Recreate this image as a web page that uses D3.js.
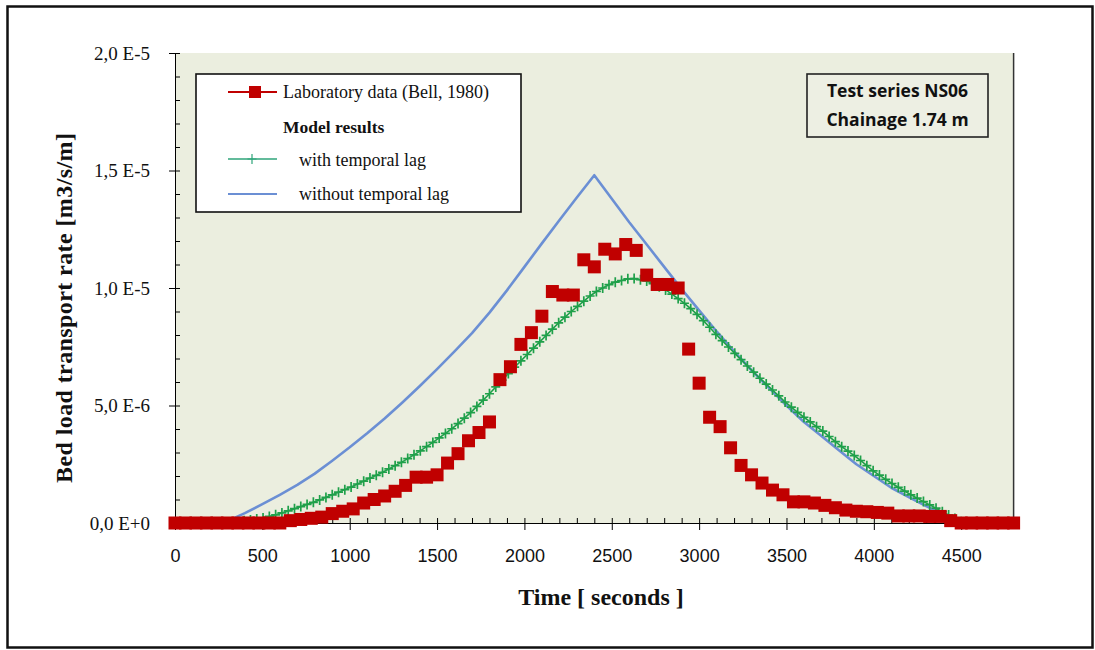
<!DOCTYPE html>
<html>
<head>
<meta charset="utf-8">
<script src="https://cdn.jsdelivr.net/npm/d3@7"></script>
<style>
  html, body { margin: 0; padding: 0; background: #ffffff; }
  svg { display: block; }
</style>
</head>
<body>
<svg id="chart" width="1095" height="650"></svg>
<script>
// ---- Data (transport rates in units of 1E-6 m3/s/m, time in seconds) ----

// Laboratory measurements (Bell, 1980)
const labTime = [
  0, 60, 120, 180, 240, 300, 360, 420, 480, 540, 600, 660, 720, 780, 840, 900, 960,
  1020, 1080, 1140, 1200, 1260, 1320, 1380, 1440, 1500, 1560, 1620, 1680, 1740, 1800,
  1860, 1920, 1980, 2040, 2100, 2160, 2220, 2280, 2340, 2400, 2460, 2520, 2580, 2640,
  2700, 2760, 2820, 2880, 2940, 3000, 3060, 3120, 3180, 3240, 3300, 3360, 3420, 3480,
  3540, 3600, 3660, 3720, 3780, 3840, 3900, 3960, 4020, 4080, 4140, 4200, 4260, 4320,
  4380, 4440, 4500, 4560, 4620, 4680, 4740, 4800
];
const labRate = [
  0, 0, 0, 0, 0, 0, 0, 0, 0, 0, 0, 0.10, 0.15, 0.20, 0.25, 0.40, 0.50,
  0.60, 0.85, 1.00, 1.15, 1.35, 1.60, 1.95, 1.95, 2.05, 2.55, 2.95, 3.50, 3.85, 4.30,
  6.10, 6.65, 7.60, 8.10, 8.80, 9.85, 9.70, 9.70, 11.20, 10.90, 11.65, 11.45, 11.85, 11.60,
  10.55, 10.15, 10.15, 10.00, 7.40, 5.95, 4.50, 4.10, 3.20, 2.45, 2.05, 1.70, 1.40, 1.20,
  0.90, 0.90, 0.85, 0.75, 0.65, 0.55, 0.50, 0.48, 0.45, 0.42, 0.30, 0.30, 0.30, 0.28,
  0.28, 0.10, 0, 0, 0, 0, 0, 0
];

// Model results with temporal lag
const lagTime = [
  0, 36, 72, 108, 144, 180, 216, 252, 288, 324, 360, 396, 432, 468, 504, 540, 576, 612,
  648, 684, 720, 756, 792, 828, 864, 900, 936, 972, 1008, 1044, 1080, 1116, 1152, 1188,
  1224, 1260, 1296, 1332, 1368, 1404, 1440, 1476, 1512, 1548, 1584, 1620, 1656, 1692,
  1728, 1764, 1800, 1836, 1872, 1908, 1944, 1980, 2016, 2052, 2088, 2124, 2160, 2196,
  2232, 2268, 2304, 2340, 2376, 2412, 2448, 2484, 2520, 2556, 2592, 2628, 2664, 2700,
  2736, 2772, 2808, 2844, 2880, 2916, 2952, 2988, 3024, 3060, 3096, 3132, 3168, 3204,
  3240, 3276, 3312, 3348, 3384, 3420, 3456, 3492, 3528, 3564, 3600, 3636, 3672, 3708,
  3744, 3780, 3816, 3852, 3888, 3924, 3960, 3996, 4032, 4068, 4104, 4140, 4176, 4212,
  4248, 4284, 4320, 4356, 4392, 4428, 4464, 4500, 4536, 4572, 4608, 4644, 4680, 4716,
  4752, 4788
];
const lagRate = [
  0, 0, 0, 0, 0, 0, 0, 0, 0, 0.02, 0.05, 0.10, 0.13, 0.17, 0.21, 0.28, 0.35, 0.43,
  0.52, 0.61, 0.70, 0.79, 0.88, 0.98, 1.09, 1.20, 1.31, 1.42, 1.53, 1.66, 1.78, 1.91, 2.03, 2.16,
  2.30, 2.44, 2.58, 2.74, 2.90, 3.07, 3.25, 3.43, 3.62, 3.81, 4.01, 4.23, 4.46, 4.70,
  4.96, 5.23, 5.50, 5.79, 6.08, 6.36, 6.63, 6.90, 7.17, 7.44, 7.71, 7.98, 8.25, 8.52,
  8.76, 9.00, 9.22, 9.44, 9.66, 9.85, 10.00, 10.14, 10.25, 10.32, 10.39, 10.40, 10.35, 10.30,
  10.18, 10.05, 9.92, 9.74, 9.55, 9.35, 9.12, 8.88, 8.61, 8.33, 8.03, 7.76, 7.49, 7.22,
  6.95, 6.68, 6.42, 6.16, 5.91, 5.66, 5.41, 5.15, 4.93, 4.71, 4.50, 4.30, 4.10, 3.91,
  3.68, 3.46, 3.25, 3.06, 2.87, 2.66, 2.44, 2.22, 2.04, 1.86, 1.68, 1.52, 1.36, 1.20,
  1.06, 0.91, 0.77, 0.63, 0.48, 0.34, 0.19, 0.05, 0, 0, 0, 0, 0, 0,
  0, 0
];

// Model results without temporal lag
const noLagTime = [
  0, 270, 300, 400, 500, 600, 700, 800, 900, 1000, 1100, 1200, 1300, 1400, 1500, 1600,
  1700, 1800, 1900, 2000, 2100, 2200, 2300, 2400, 2500, 2600, 2700, 2800, 2900, 3000,
  3100, 3200, 3300, 3400, 3500, 3600, 3700, 3800, 3900, 4000, 4100, 4200, 4300, 4400,
  4480, 4800
];
const noLagRate = [
  0, 0, 0.08, 0.42, 0.80, 1.20, 1.62, 2.10, 2.65, 3.22, 3.82, 4.45, 5.12, 5.82, 6.55, 7.30,
  8.08, 8.95, 9.90, 10.90, 11.90, 12.88, 13.85, 14.80, 13.80, 12.80, 11.85, 10.90, 9.95, 9.05,
  8.15, 7.30, 6.50, 5.75, 5.00, 4.30, 3.70, 3.10, 2.50, 2.00, 1.50, 1.10, 0.72, 0.35,
  0, 0
];

// Axis ticks
const xMajorTicks = [0, 500, 1000, 1500, 2000, 2500, 3000, 3500, 4000, 4500];
const xTickLabels = ["0", "500", "1000", "1500", "2000", "2500", "3000", "3500", "4000", "4500"];
const yMajorTicks = [0, 5, 10, 15, 20];
const yTickLabels = ["0,0 E+0", "5,0 E-6", "1,0 E-5", "1,5 E-5", "2,0 E-5"];

const legendLabels = ["Laboratory data (Bell, 1980)", "Model results", "with temporal lag", "without temporal lag"];
const noteLines = ["Test series NS06", "Chainage 1.74 m"];

// ---- Layout ----
const svg = d3.select("#chart");
const plot = { left: 175, right: 1013.6, top: 53, bottom: 523 };

const x = d3.scaleLinear().domain([0, 4800]).range([plot.left, plot.right]);
const y = d3.scaleLinear().domain([0, 20]).range([plot.bottom, plot.top]);

const RED = "#C00000", GREEN = "#1FA04A", BLUE = "#6B8FD4";
const serif = "'Liberation Serif', 'Times New Roman', serif";

// Outer frame
svg.append("rect")
  .attr("x", 7.5).attr("y", 6.5).attr("width", 1085).attr("height", 641)
  .attr("fill", "#ffffff").attr("stroke", "#111").attr("stroke-width", 2.5);

// Plot area
svg.append("rect")
  .attr("x", plot.left).attr("y", plot.top)
  .attr("width", plot.right - plot.left).attr("height", plot.bottom - plot.top)
  .attr("fill", "#EBEEDF");
svg.append("line")
  .attr("x1", plot.right).attr("x2", plot.right)
  .attr("y1", plot.top).attr("y2", plot.bottom)
  .attr("stroke", "#333").attr("stroke-width", 1.5);

// ---- Axes ----
const xMinor = d3.range(0, 4801, 100);
const yMinor = d3.range(0, 20.01, 1);

const xOuter = d3.axisBottom(x).tickValues(xMajorTicks).tickSizeInner(7).tickSizeOuter(0)
  .tickPadding(19).tickFormat((d, i) => xTickLabels[i]);
const gx = svg.append("g").attr("transform", `translate(0,${plot.bottom})`).call(xOuter);
gx.selectAll("text").attr("font-family", "'Liberation Sans', Arial, sans-serif")
  .attr("font-size", 18).attr("fill", "#111");
gx.select(".domain").attr("stroke", "#000");
gx.selectAll(".tick line").attr("stroke", "#000");

const xInner = d3.axisTop(x).tickValues(xMinor).tickSize(5).tickFormat("");
const gxi = svg.append("g").attr("transform", `translate(0,${plot.bottom})`).call(xInner);
gxi.select(".domain").remove();
gxi.selectAll(".tick line").attr("stroke", "#000");

const yOuter = d3.axisLeft(y).tickValues(yMajorTicks).tickSizeInner(6).tickSizeOuter(0)
  .tickPadding(19).tickFormat((d, i) => yTickLabels[i]);
const gy = svg.append("g").attr("transform", `translate(${plot.left},0)`).call(yOuter);
gy.selectAll("text").attr("font-family", serif).attr("font-size", 19).attr("fill", "#111");
gy.select(".domain").attr("stroke", "#000");
gy.selectAll(".tick line").attr("stroke", "#000");

const yInner = d3.axisRight(y).tickValues(yMinor).tickSize(5).tickFormat("");
const gyi = svg.append("g").attr("transform", `translate(${plot.left},0)`).call(yInner);
gyi.select(".domain").remove();
gyi.selectAll(".tick line").attr("stroke", "#000");

// Axis titles
svg.append("text")
  .attr("x", 601).attr("y", 605)
  .attr("text-anchor", "middle")
  .attr("font-family", serif).attr("font-weight", "bold").attr("font-size", 24)
  .attr("fill", "#111")
  .text("Time [ seconds ]");

svg.append("text")
  .attr("transform", "translate(72,308) rotate(-90)")
  .attr("text-anchor", "middle")
  .attr("font-family", serif).attr("font-weight", "bold").attr("font-size", 24)
  .attr("textLength", 350).attr("lengthAdjust", "spacing")
  .attr("fill", "#111")
  .text("Bed load transport rate [m3/s/m]");

// ---- Series ----
const noLag = noLagTime.map((t, i) => ({ t, v: noLagRate[i] }));
const lag = lagTime.map((t, i) => ({ t, v: lagRate[i] }));
const lab = labTime.map((t, i) => ({ t, v: labRate[i] }));

const line = d3.line().x(d => x(d.t)).y(d => y(d.v));

// without temporal lag: plain line
svg.append("path").datum(noLag)
  .attr("d", line)
  .attr("fill", "none").attr("stroke", BLUE).attr("stroke-width", 2.6)
  .attr("stroke-linejoin", "round");

// with temporal lag: line with "+" markers
svg.append("path").datum(lag)
  .attr("d", line)
  .attr("fill", "none").attr("stroke", GREEN).attr("stroke-width", 1.6);

const plus = "M-4.5,0H4.5M0,-5V5";
svg.append("g").selectAll("path").data(lag).join("path")
  .attr("transform", d => `translate(${x(d.t)},${y(d.v)})`)
  .attr("d", plus)
  .attr("fill", "none").attr("stroke", GREEN).attr("stroke-width", 1.7);

// laboratory data: filled squares
const sq = 13;
svg.append("g").selectAll("rect").data(lab).join("rect")
  .attr("x", d => x(d.t) - sq / 2).attr("y", d => y(d.v) - sq / 2)
  .attr("width", sq).attr("height", sq)
  .attr("fill", RED);

// ---- Legend ----
const lg = svg.append("g");
lg.append("rect")
  .attr("x", 196).attr("y", 74).attr("width", 325).attr("height", 138)
  .attr("fill", "#ffffff").attr("stroke", "#111").attr("stroke-width", 1.6);

lg.append("line").attr("x1", 228).attr("x2", 277).attr("y1", 92).attr("y2", 92)
  .attr("stroke", RED).attr("stroke-width", 2);
lg.append("rect").attr("x", 249).attr("y", 86).attr("width", 12).attr("height", 12).attr("fill", RED);

lg.append("line").attr("x1", 228).attr("x2", 277).attr("y1", 159).attr("y2", 159)
  .attr("stroke", "#2FA57A").attr("stroke-width", 1.5);
lg.append("path").attr("transform", "translate(252,159)").attr("d", plus)
  .attr("fill", "none").attr("stroke", "#2FA57A").attr("stroke-width", 1.2);

lg.append("line").attr("x1", 228).attr("x2", 277).attr("y1", 194).attr("y2", 194)
  .attr("stroke", BLUE).attr("stroke-width", 2.2);

const legendText = [
  { x: 283, y: 98, w: "normal", s: 18 },
  { x: 283, y: 133, w: "bold", s: 17.5 },
  { x: 299, y: 166, w: "normal", s: 18 },
  { x: 299, y: 200, w: "normal", s: 18 }
];
lg.selectAll("text.lbl").data(legendLabels).join("text")
  .attr("class", "lbl")
  .attr("x", (d, i) => legendText[i].x).attr("y", (d, i) => legendText[i].y)
  .attr("font-family", serif)
  .attr("font-weight", (d, i) => legendText[i].w)
  .attr("font-size", (d, i) => legendText[i].s)
  .attr("fill", "#111")
  .text(d => d);

// ---- Test series note ----
const note = svg.append("g");
note.append("rect")
  .attr("x", 807).attr("y", 74).attr("width", 181).attr("height", 63)
  .attr("fill", "#EDEFE3").attr("stroke", "#222").attr("stroke-width", 1.6);
note.selectAll("text").data(noteLines).join("text")
  .attr("x", 897.5).attr("y", (d, i) => 97 + i * 28.5)
  .attr("text-anchor", "middle")
  .attr("font-family", "'Open Sans', 'Liberation Sans', sans-serif")
  .attr("font-weight", "bold").attr("font-size", 17.5)
  .attr("fill", "#111")
  .text(d => d);
</script>
</body>
</html>
